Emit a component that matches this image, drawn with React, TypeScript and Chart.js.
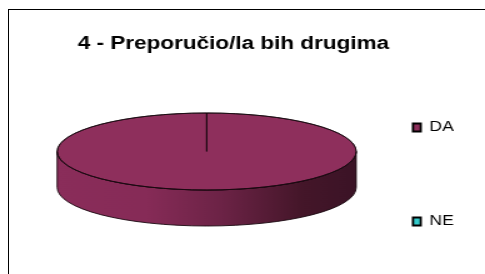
import { useEffect, useRef } from 'react';
import { Chart, registerables } from 'chart.js';

Chart.register(...registerables);

// ---- data ----
const chartTitle = '4 - Preporučio/la bih drugima';
const categories = ['DA', 'NE'];
const values = [100, 0];
const sliceColors = ['#8E2F5C', '#33CCCC'];
const legendSpacerRows = 3;

// ---- styling constants ----
const FONT = "'Liberation Sans', Arial, Helvetica, sans-serif";
const CANVAS_W = 388; // drawn narrower, then stretched to 485px like the original
const CANVAS_H = 274;
const RADIUS = 119.6;
const TILT = 0.3219;
const DEPTH = 36;

const pie3d = {
  id: 'pie3d',
  beforeDatasetsDraw(chart: any) {
    const arc: any = chart.getDatasetMeta(0).data[0];
    if (!arc) return;
    const { x, y, outerRadius } = arc;
    const ctx: CanvasRenderingContext2D = chart.ctx;
    const rx = outerRadius;
    const ry = outerRadius * TILT;
    // side wall
    ctx.save();
    ctx.beginPath();
    ctx.moveTo(x - rx, y);
    ctx.lineTo(x - rx, y + DEPTH);
    ctx.ellipse(x, y + DEPTH, rx, ry, 0, Math.PI, 0, true);
    ctx.lineTo(x + rx, y);
    ctx.ellipse(x, y, rx, ry, 0, 0, Math.PI, false);
    ctx.closePath();
    const g = ctx.createLinearGradient(x - rx, 0, x + rx, 0);
    g.addColorStop(0, '#8a2d5a');
    g.addColorStop(0.3, '#862b57');
    g.addColorStop(0.55, '#6c2346');
    g.addColorStop(0.82, '#441629');
    g.addColorStop(1, '#3b1326');
    ctx.fillStyle = g;
    ctx.fill();
    ctx.lineWidth = 0.9;
    ctx.strokeStyle = '#1a0810';
    ctx.stroke();
    ctx.restore();
    // flatten the top face
    ctx.save();
    ctx.translate(0, y);
    ctx.scale(1, TILT);
    ctx.translate(0, -y);
  },
  afterDatasetsDraw(chart: any) {
    const arc: any = chart.getDatasetMeta(0).data[0];
    if (!arc) return;
    const ctx: CanvasRenderingContext2D = chart.ctx;
    ctx.restore();
    const { x, y, outerRadius } = arc;
    ctx.save();
    ctx.beginPath();
    ctx.ellipse(x, y, outerRadius, outerRadius * TILT, 0, 0, Math.PI * 2);
    ctx.lineWidth = 0.9;
    ctx.strokeStyle = '#1a0810';
    ctx.stroke();
    ctx.restore();
  },
};

export default function App() {
  const ref = useRef<HTMLCanvasElement>(null);

  useEffect(() => {
    if (!ref.current) return;
    const chart = new Chart(ref.current, {
      type: 'pie',
      data: {
        labels: categories,
        datasets: [
          {
            data: values,
            backgroundColor: sliceColors,
            borderColor: '#000',
            borderWidth: 1,
            radius: RADIUS,
            clip: false,
          } as any,
        ],
      },
      options: {
        responsive: false,
        animation: false,
        events: [],
        layout: { padding: { left: 9.82, right: 24.22, top: 0, bottom: 36 } },
        plugins: {
          title: {
            display: true,
            text: chartTitle,
            color: '#000',
            font: { family: FONT, size: 18, weight: 'bold' },
            padding: { top: 32.9, bottom: 10.5 },
          },
          legend: {
            position: 'right',
            align: 'end',
            maxWidth: 42.88,
            onClick: () => {},
            labels: {
              color: '#000',
              font: { family: FONT, size: 14 },
              boxWidth: 6.2,
              boxHeight: 8,
              padding: 9.5,
              generateLabels: (c: any) => {
                const ds = c.data.datasets[0];
                const items: any[] = [];
                (c.data.labels as string[]).forEach((t, i) => {
                  if (i > 0) {
                    for (let k = 0; k < legendSpacerRows; k++) {
                      items.push({
                        text: '',
                        fillStyle: 'rgba(0,0,0,0)',
                        strokeStyle: 'rgba(0,0,0,0)',
                        lineWidth: 0,
                        hidden: false,
                        index: -1,
                      });
                    }
                  }
                  items.push({
                    text: t,
                    fillStyle: ds.backgroundColor[i],
                    strokeStyle: '#000',
                    lineWidth: 1.8,
                    hidden: false,
                    index: i,
                    fontColor: '#000',
                  });
                });
                return items;
              },
            },
          },
          tooltip: { enabled: false },
        },
      },
      plugins: [pie3d],
    } as any);
    return () => chart.destroy();
  }, []);

  return (
    <div
      style={{
        position: 'absolute',
        left: 0,
        top: 0,
        width: 485,
        height: 274,
        overflow: 'hidden',
        background: '#fff',
      }}
    >
      <div
        style={{
          position: 'absolute',
          left: 8,
          top: 9,
          width: 540,
          height: 340,
          border: '1px solid #000',
          boxSizing: 'border-box',
        }}
      />
      <canvas
        ref={ref}
        width={CANVAS_W}
        height={CANVAS_H}
        style={{ position: 'absolute', left: 0, top: 0, width: '485px', height: '274px' }}
      />
    </div>
  );
}
